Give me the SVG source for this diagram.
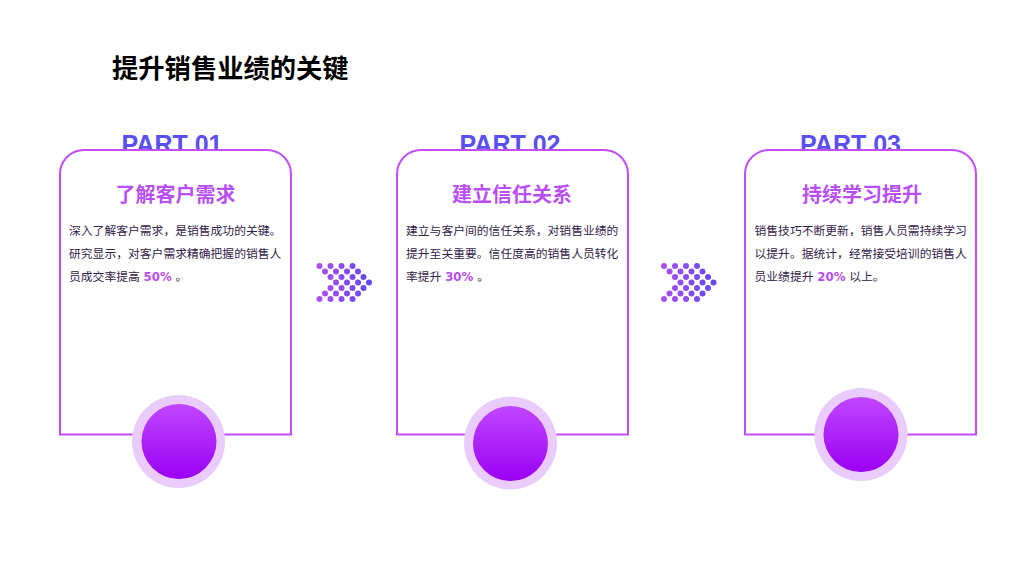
<svg xmlns="http://www.w3.org/2000/svg" width="1024" height="576" viewBox="0 0 1024 576">
<style>
.title{font-family:"Noto Sans CJK SC","Liberation Sans",sans-serif;font-size:26.3px;font-weight:700;fill:#000}
.part{font-family:"Liberation Sans","Noto Sans CJK SC",sans-serif;font-size:25px;font-weight:700;fill:#5a4ff2;text-anchor:middle}
.card{fill:#fff;stroke:#c24efb;stroke-width:2}
.head{font-family:"Noto Sans CJK SC",sans-serif;font-size:20px;font-weight:700;fill:#b84ef7;text-anchor:middle}
.body{font-family:"DejaVu Sans","Noto Sans CJK SC",sans-serif;font-size:11.8px;fill:#33224a}
.num{font-weight:700;fill:#b84cf5}
.ring{fill:#e9ccfb}
.ball{fill:url(#ballG)}
</style>
<defs>
<linearGradient id="ballG" x1="0" y1="0" x2="0" y2="1">
<stop offset="0" stop-color="#c046ff"/>
<stop offset="1" stop-color="#9a00f2"/>
</linearGradient>
<linearGradient id="dotG1" gradientUnits="userSpaceOnUse" x1="316" y1="0" x2="372" y2="0">
<stop offset="0" stop-color="#b050f6"/>
<stop offset="1" stop-color="#5e48f5"/>
</linearGradient>
<linearGradient id="dotG2" gradientUnits="userSpaceOnUse" x1="661" y1="0" x2="717" y2="0">
<stop offset="0" stop-color="#b050f6"/>
<stop offset="1" stop-color="#5e48f5"/>
</linearGradient>
</defs>
<rect width="1024" height="576" fill="#fff"/>
<text class="title" x="112" y="78">提升销售业绩的关键</text>

<g id="card1">
<text class="part" x="172" y="153">PART 01</text>
<path class="card" d="M60,434.5 V174 A24,24 0 0 1 84,150 H267 A24,24 0 0 1 291,174 V434.5 Z"/>
<text class="head" x="175.5" y="201.5">了解客户需求</text>
<text class="body" x="69" y="234.5">深入了解客户需求，是销售成功的关键。</text>
<text class="body" x="69" y="257.5">研究显示，对客户需求精确把握的销售人</text>
<text class="body" x="69" y="280.5">员成交率提高 <tspan class="num">50%</tspan> 。</text>
<circle class="ring" cx="178.5" cy="441.5" r="46.5"/>
<circle class="ball" cx="179" cy="441.5" r="37.5"/>
</g>

<g id="card2">
<text class="part" x="510" y="153">PART 02</text>
<path class="card" d="M397,434.5 V174 A24,24 0 0 1 421,150 H604 A24,24 0 0 1 628,174 V434.5 Z"/>
<text class="head" x="512" y="201.5">建立信任关系</text>
<text class="body" x="406" y="234.5">建立与客户间的信任关系，对销售业绩的</text>
<text class="body" x="406" y="257.5">提升至关重要。信任度高的销售人员转化</text>
<text class="body" x="406" y="280.5">率提升 <tspan class="num">30%</tspan> 。</text>
<circle class="ring" cx="510.5" cy="443" r="46.5"/>
<circle class="ball" cx="510.5" cy="443.5" r="37.5"/>
</g>

<g id="card3">
<text class="part" x="850.5" y="153">PART 03</text>
<path class="card" d="M745,434.5 V174 A24,24 0 0 1 769,150 H952 A24,24 0 0 1 976,174 V434.5 Z"/>
<text class="head" x="862" y="201.5">持续学习提升</text>
<text class="body" x="754.5" y="234.5">销售技巧不断更新，销售人员需持续学习</text>
<text class="body" x="754.5" y="257.5">以提升。据统计，经常接受培训的销售人</text>
<text class="body" x="754.5" y="280.5">员业绩提升 <tspan class="num">20%</tspan> 以上。</text>
<circle class="ring" cx="861" cy="434.5" r="46.5"/>
<circle class="ball" cx="861" cy="434.5" r="37.5"/>
</g>

<g id="connectors">
<g id="arrow1" fill="url(#dotG1)">
<circle cx="319.5" cy="266" r="3"/><circle cx="330.5" cy="266" r="3"/><circle cx="341.5" cy="266" r="3"/><circle cx="352.5" cy="266" r="3"/>
<circle cx="325" cy="271.5" r="3"/><circle cx="336" cy="271.5" r="3"/><circle cx="347" cy="271.5" r="3"/><circle cx="358" cy="271.5" r="3"/>
<circle cx="330.5" cy="277" r="3"/><circle cx="341.5" cy="277" r="3"/><circle cx="352.5" cy="277" r="3"/><circle cx="363.5" cy="277" r="3"/>
<circle cx="336" cy="282.5" r="3"/><circle cx="347" cy="282.5" r="3"/><circle cx="358" cy="282.5" r="3"/><circle cx="369" cy="282.5" r="3"/>
<circle cx="330.5" cy="288" r="3"/><circle cx="341.5" cy="288" r="3"/><circle cx="352.5" cy="288" r="3"/><circle cx="363.5" cy="288" r="3"/>
<circle cx="325" cy="293.5" r="3"/><circle cx="336" cy="293.5" r="3"/><circle cx="347" cy="293.5" r="3"/><circle cx="358" cy="293.5" r="3"/>
<circle cx="319.5" cy="299" r="3"/><circle cx="330.5" cy="299" r="3"/><circle cx="341.5" cy="299" r="3"/><circle cx="352.5" cy="299" r="3"/>
</g>
<g id="arrow2" fill="url(#dotG2)">
<circle cx="664" cy="266" r="3"/><circle cx="675" cy="266" r="3"/><circle cx="686" cy="266" r="3"/><circle cx="697" cy="266" r="3"/>
<circle cx="669.5" cy="271.5" r="3"/><circle cx="680.5" cy="271.5" r="3"/><circle cx="691.5" cy="271.5" r="3"/><circle cx="702.5" cy="271.5" r="3"/>
<circle cx="675" cy="277" r="3"/><circle cx="686" cy="277" r="3"/><circle cx="697" cy="277" r="3"/><circle cx="708" cy="277" r="3"/>
<circle cx="680.5" cy="282.5" r="3"/><circle cx="691.5" cy="282.5" r="3"/><circle cx="702.5" cy="282.5" r="3"/><circle cx="713.5" cy="282.5" r="3"/>
<circle cx="675" cy="288" r="3"/><circle cx="686" cy="288" r="3"/><circle cx="697" cy="288" r="3"/><circle cx="708" cy="288" r="3"/>
<circle cx="669.5" cy="293.5" r="3"/><circle cx="680.5" cy="293.5" r="3"/><circle cx="691.5" cy="293.5" r="3"/><circle cx="702.5" cy="293.5" r="3"/>
<circle cx="664" cy="299" r="3"/><circle cx="675" cy="299" r="3"/><circle cx="686" cy="299" r="3"/><circle cx="697" cy="299" r="3"/>
</g>
</g>
</svg>
